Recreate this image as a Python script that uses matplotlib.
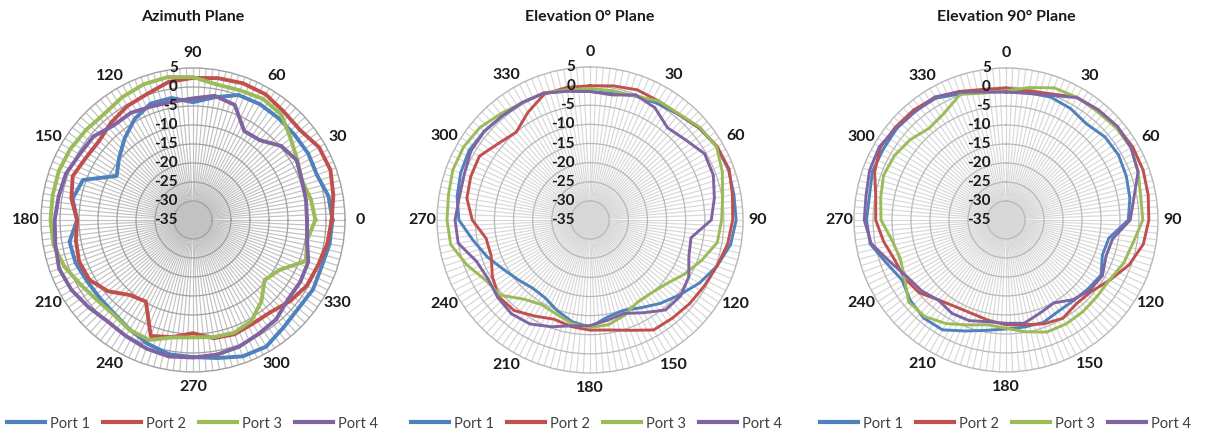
import numpy as np
import matplotlib
matplotlib.use("Agg")
import matplotlib.pyplot as plt
from matplotlib import transforms
from matplotlib.lines import Line2D

plt.rcParams['font.family'] = ['Lato', 'DejaVu Sans']

# angles of the measured points (deg)
angles = np.arange(0, 360, 10)

# Azimuth plane, gain in dB, 0..350 deg
az_port1 = [1.7, 1.2, -0.3, 0.0, -0.1, 0.0, 0.2, 0.0, -2.2, -4.0, -2.4, -2.4, -4.3, -7.0, -9.6, -11.8, -4.2, -2.8,
            -4.5, -2.0, -2.1, -2.8, -3.0, -2.8, -1.7, -0.3, 0.9, 1.1, 1.9, 3.2, 3.5, 2.0, 1.2, 1.5, 1.0, 1.5]
az_port2 = [1.5, 2.5, 3.5, 3.3, 1.8, 2.2, 3.2, 3.3, 2.9, 2.4, 1.9, 0.3, -0.4, -1.5, -2.7, -2.4, -1.3, -2.5,
            -4.5, -3.7, -3.1, -3.5, -5.8, -9.2, -10.2, -2.5, -3.7, -5.2, -3.4, -3.0, -3.5, -3.3, -1.7, -0.4, 0.0, 0.9]
az_port3 = [-2.8, -3.5, -4.5, -3.3, -1.5, 1.2, 1.8, 1.3, 1.2, 2.6, 3.2, 3.0, 2.3, 1.4, 1.8, 2.3, 2.6, 2.5,
            2.5, 2.3, 1.0, -0.9, -2.1, -2.5, -1.6, -1.4, -3.6, -4.1, -3.7, -3.4, -4.3, -7.0, -10.4, -8.7, -3.4, -4.5]
az_port4 = [-5.0, -4.8, -4.5, -3.5, -4.7, -7.6, -8.0, -2.8, -1.8, -3.0, -3.4, -3.2, -2.4, -2.5, -0.8, -0.5, 0.6, 0.9,
            1.4, 1.8, 2.5, 1.9, 0.8, -0.1, 0.3, 1.0, 1.5, 1.2, 1.0, 0.5, -0.4, -0.9, -2.4, -2.4, -2.7, -4.5]

# Elevation 0 deg plane
el0_port1 = [-1.4, -1.4, -0.5, 0.2, 1.0, 2.3, 3.3, 3.5, 3.2, 3.2, 2.3, 0.3, -2.0, -4.5, -6.5, -8.5, -9.8, -9.2,
             -7.0, -8.0, -9.8, -11.5, -11.7, -10.6, -9.0, -6.5, -4.0, -0.7, 0.3, 1.0, 1.5, 1.1, 0.6, 0.4, 0.3, -0.8]
el0_port2 = [0.1, 0.6, 1.2, 0.9, 1.1, 2.4, 3.4, 3.7, 2.8, 2.3, 1.5, 0.3, -0.5, -1.0, -1.5, -1.8, -4.3, -5.8,
             -6.2, -6.7, -7.4, -6.0, -4.1, -3.8, -5.5, -7.5, -7.4, -4.2, -2.3, -1.8, -1.6, -3.8, -5.0, -2.5, 0.0, 0.2]
el0_port3 = [-0.6, -0.7, -0.5, 0.9, 1.2, 2.6, 3.2, 1.8, 0.2, -0.6, -1.2, -4.0, -6.6, -9.0, -10.1, -10.2, -8.5, -7.2,
             -6.9, -7.5, -8.9, -9.5, -8.0, -4.4, -3.5, -0.7, 2.0, 2.4, 2.6, 3.2, 3.2, 2.6, 1.3, 0.4, 0.4, -0.4]
el0_port4 = [-1.4, -1.8, -0.2, -1.1, -3.5, -2.4, -0.4, -0.7, -2.0, -3.3, -8.2, -7.5, -5.2, -4.1, -4.3, -7.0, -9.0, -8.4,
             -7.4, -6.9, -5.3, -3.6, -3.0, -3.5, -4.2, -3.4, 0.0, 0.3, -0.3, 0.0, 1.0, 1.1, 0.6, 0.5, 0.3, -0.8]

# Elevation 90 deg plane
el90_port1 = [-1.3, -1.0, -0.6, -1.1, -2.0, -1.0, -0.8, -1.3, -1.9, -2.8, -7.5, -8.0, -6.1, -6.8, -7.3, -7.3, -6.3, -6.4,
              -6.3, -5.5, -3.9, -1.6, -1.3, -2.1, -3.4, -1.6, 1.3, 1.7, 1.5, 2.4, 2.3, 2.5, 2.3, 2.0, 0.3, -0.8]
el90_port2 = [-0.3, -0.5, 0.3, 2.3, 2.8, 3.2, 3.5, 3.4, 3.0, 2.6, 1.7, -0.5, -3.4, -5.7, -6.2, -5.1, -5.9, -7.0,
              -7.4, -8.2, -8.8, -8.6, -7.5, -5.2, -4.2, -3.9, -2.3, -0.7, -0.2, 1.8, 3.2, 3.0, 2.8, 2.3, 1.0, -0.1]
el90_port3 = [-1.0, 0.4, 2.0, 2.3, 2.3, 2.8, 3.0, 2.0, 1.0, 1.0, -1.0, -2.0, -3.5, -3.7, -3.5, -3.4, -3.6, -5.1,
              -6.5, -7.0, -5.6, -3.5, -1.8, -1.5, -4.2, -5.4, -4.5, -2.1, -1.5, -0.7, -1.1, -2.1, -3.5, -2.5, 0.2, -1.1]
el90_port4 = [-1.3, -1.2, -0.1, 2.2, 2.8, 3.3, 3.0, 2.0, -0.8, -2.3, -6.5, -7.0, -5.7, -6.2, -7.6, -9.8, -8.9, -7.4,
              -7.8, -7.8, -6.8, -6.6, -7.4, -6.0, -5.0, -2.6, 1.0, 2.3, 2.4, 3.2, 3.5, 2.7, 2.2, 2.4, 0.8, -0.8]

ports = ['Port 1', 'Port 2', 'Port 3', 'Port 4']
colors = ['#4f81bd', '#c0504d', '#9bbb59', '#8064a2']
r_ticks = [5, 0, -5, -10, -15, -20, -25, -30, -35]
ang_ticks = np.arange(0, 360, 30)

fig = plt.figure(figsize=(12.1, 4.34), dpi=100)


def radar(rect, title, series, zero, direction, lw, spoke_col, ring_col):
    ax = fig.add_axes(rect, projection='polar')
    ax.set_theta_zero_location(zero)
    ax.set_theta_direction(direction)
    ax.set_rlim(-35, 5)
    th = np.deg2rad(np.append(angles, 360))
    for vals, c in zip(series, colors):
        ax.plot(th, np.append(vals, vals[0]), color=c, lw=lw, solid_joinstyle='round', zorder=3)
    # spokes every 2.5 deg, rings every 5 dB
    ax.set_thetagrids(np.arange(0, 360, 2.5), [''] * 144)
    ax.set_rgrids(np.arange(-30, 5, 5), [''] * 7)
    ax.xaxis.grid(True, color=spoke_col, lw=0.85)
    ax.yaxis.grid(True, color=ring_col, lw=0.9)
    ax.spines['polar'].set_color(ring_col)
    ax.spines['polar'].set_linewidth(1.0)
    ax.tick_params(length=0)
    # angle labels
    for a in ang_ticks:
        ax.text(np.deg2rad(a), 8.9, str(a), ha='center', va='center',
                fontsize=11.5, fontweight='bold', color='#1a1a1a')
    # radial labels on the vertical axis
    top = np.deg2rad(90) if zero == 'E' else 0.0
    off = transforms.offset_copy(ax.transData, fig=fig, x=-15, y=0, units='dots')
    for r in r_ticks:
        ax.text(top, r, str(r), transform=off, ha='right', va='center',
                fontsize=11, fontweight='bold', color='#1a1a1a', zorder=4)
    cx = rect[0] + rect[2] / 2
    fig.text(cx, 0.961, title, ha='center', va='center', fontsize=11.5, fontweight='bold', color='#1a1a1a')
    return ax


radar([0.0339, 0.1429, 0.2512, 0.7005], 'Azimuth Plane',
      [az_port1, az_port2, az_port3, az_port4], 'E', 1, 2.8, '#c2c2c2', '#a0a0a0')
radar([0.3612, 0.1406, 0.2529, 0.7050], 'Elevation 0° Plane',
      [el0_port1, el0_port2, el0_port3, el0_port4], 'N', -1, 2.1, '#d8d8d8', '#b8b8b8')
radar([0.7058, 0.1429, 0.2512, 0.7005], 'Elevation 90° Plane',
      [el90_port1, el90_port2, el90_port3, el90_port4], 'N', -1, 2.1, '#d8d8d8', '#b8b8b8')

# one legend under each chart
for cx in [0.159, 0.493, 0.831]:
    handles = [Line2D([], [], color=c, lw=3) for c in colors]
    fig.legend(handles, ports, loc='center', bbox_to_anchor=(cx, 0.024), ncol=4, frameon=False,
               fontsize=10.5, handlelength=2.6, handletextpad=0.35, columnspacing=0.9,
               labelcolor='#404040', borderpad=0)

fig.savefig('out.png', dpi=100, facecolor='white')
